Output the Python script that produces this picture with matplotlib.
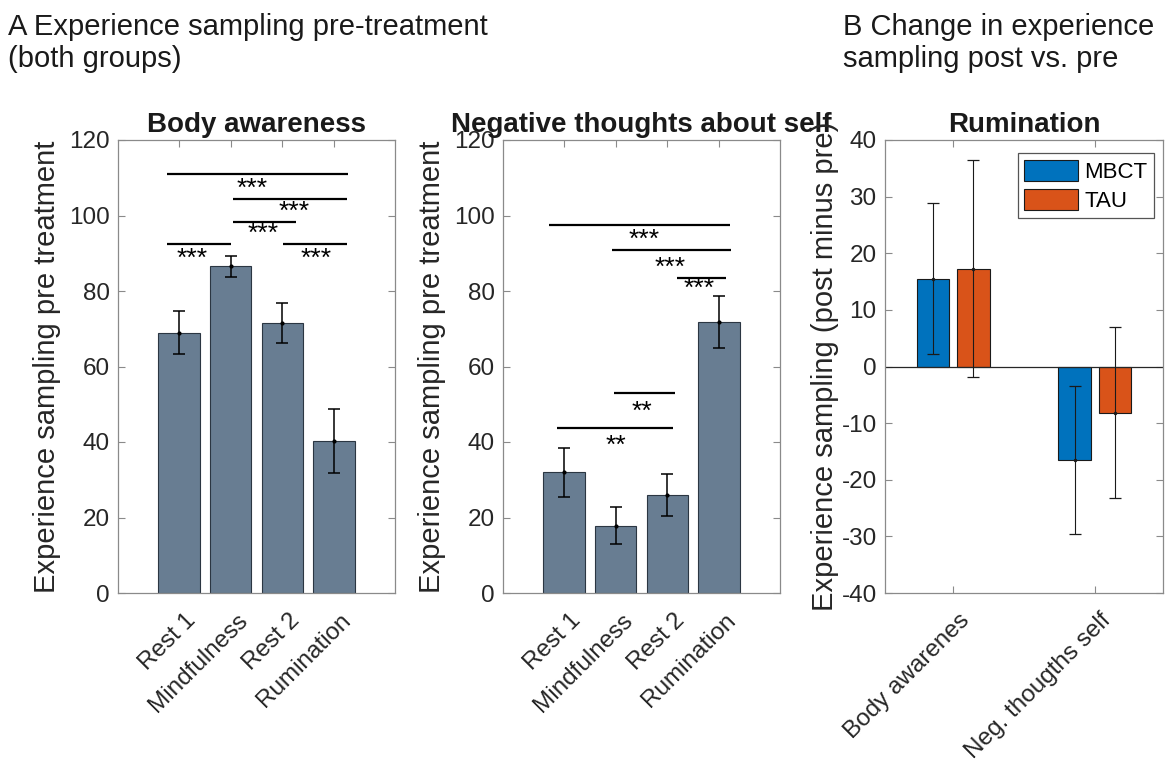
import numpy as np
import matplotlib
matplotlib.use('Agg')
import matplotlib.pyplot as plt
from matplotlib.transforms import ScaledTranslation

plt.rcParams['font.family'] = ['Liberation Sans', 'DejaVu Sans']
plt.rcParams['axes.unicode_minus'] = False

# pre-treatment experience sampling, both groups
conditions = ['Rest 1', 'Mindfulness', 'Rest 2', 'Rumination']
body_mean = [68.9, 86.5, 71.6, 40.3]
body_sem = [5.7, 2.7, 5.3, 8.4]
negself_mean = [32.0, 17.8, 26.0, 71.8]
negself_sem = [6.5, 4.9, 5.5, 7.0]

# significance bars: start, end, height, star position, label
body_sig_x0 = [0.77, 2.05, 2.05, 0.77, 3.02]
body_sig_x1 = [4.28, 4.26, 3.27, 2.01, 4.26]
body_sig_y = [111.1, 104.3, 98.4, 92.4, 92.4]
body_star_x = [2.42, 3.23, 2.63, 1.25, 3.66]
body_star_y = [108.5, 102.3, 96.4, 89.9, 89.9]
body_sig_text = ['***', '***', '***', '***', '***']

neg_sig_x0 = [0.71, 1.92, 3.18, 1.97, 0.86]
neg_sig_x1 = [4.21, 4.24, 4.13, 3.15, 3.10]
neg_sig_y = [97.5, 90.8, 83.5, 53.0, 43.7]
neg_star_x = [2.56, 3.06, 3.62, 2.50, 2.00]
neg_star_y = [94.9, 87.5, 82.0, 49.3, 40.4]
neg_sig_text = ['***', '***', '***', '**', '**']

# rumination change post minus pre
change_groups = ['Body awarenes', 'Neg. thougths self']
mbct_mean = [15.5, -16.5]
mbct_err = [13.3, 13.1]
tau_mean = [17.3, -8.2]
tau_err = [19.2, 15.1]

bar_grey = '#687d92'
mbct_col = '#0072bd'
tau_col = '#d95319'
spine_col = '#8a8a8a'

fig = plt.figure(figsize=(11.68, 7.66), dpi=100)
W, H = 1168, 766


def px_offset(dx, dy):
    return ScaledTranslation(dx / 100, dy / 100, fig.dpi_scale_trans)


def make_ax(left, right, top=140, bottom=593):
    return fig.add_axes([left / W, (H - bottom) / H, (right - left) / W, (bottom - top) / H])


def style_box(ax):
    for s in ax.spines.values():
        s.set_color(spine_col)
        s.set_linewidth(0.9)
    ax.tick_params(direction='in', length=5, width=0.8, color=spine_col,
                   top=True, right=True, labelsize=17.5, labelcolor='#262626', pad=6)


def shift_xlabels(ax, dx, dy):
    for lab in ax.get_xticklabels():
        lab.set_transform(lab.get_transform() + px_offset(dx, dy))


def pre_panel(ax, mean, sem, title, x0, x1, ys, sx, sy, stxt):
    x = np.arange(1, len(conditions) + 1)
    ax.bar(x, mean, width=0.8, color=bar_grey, edgecolor='#2b3642', linewidth=0.8, zorder=2)
    ax.errorbar(x, mean, yerr=sem, fmt='.', color='black', ms=4, elinewidth=1.1,
                capsize=4, capthick=1.1, zorder=3)
    for a, b, y in zip(x0, x1, ys):
        ax.plot([a, b], [y, y], color='black', lw=1.6, solid_capstyle='butt', zorder=4)
    for tx, ty, t in zip(sx, sy, stxt):
        ax.text(tx, ty, t, ha='center', va='center', fontsize=19, zorder=4,
                transform=ax.transData + px_offset(0, -5))
    ax.set_xlim(-0.18, 5.18)
    ax.set_ylim(0, 120)
    ax.set_yticks(np.arange(0, 121, 20))
    ax.set_xticks(x)
    ax.set_xticklabels(conditions, rotation=45, ha='right', va='top', rotation_mode='anchor')
    ax.set_ylabel('Experience sampling pre treatment', fontsize=21, color='#262626', labelpad=6)
    ax.set_title(title, fontsize=20, fontweight='bold', color='#1a1a1a', pad=6)
    style_box(ax)
    shift_xlabels(ax, 6, -8)


ax1 = make_ax(118, 395)
pre_panel(ax1, body_mean, body_sem, 'Body awareness',
          body_sig_x0, body_sig_x1, body_sig_y, body_star_x, body_star_y, body_sig_text)

ax2 = make_ax(503, 780)
pre_panel(ax2, negself_mean, negself_sem, 'Negative thoughts about self',
          neg_sig_x0, neg_sig_x1, neg_sig_y, neg_star_x, neg_star_y, neg_sig_text)

# change scores, grouped bars
ax3 = make_ax(885, 1163)
g = np.arange(1, len(change_groups) + 1)
off = 0.1429
bw = 0.2286
ax3.bar(g - off, mbct_mean, width=bw, color=mbct_col, edgecolor='#1a1a1a', linewidth=0.8,
        label='MBCT', zorder=2)
ax3.bar(g + off, tau_mean, width=bw, color=tau_col, edgecolor='#1a1a1a', linewidth=0.8,
        label='TAU', zorder=2)
ax3.errorbar(g - off, mbct_mean, yerr=mbct_err, fmt='.', color='#1a1a1a', ms=3,
             elinewidth=0.8, capsize=4, capthick=0.9, zorder=3)
ax3.errorbar(g + off, tau_mean, yerr=tau_err, fmt='.', color='#1a1a1a', ms=3,
             elinewidth=0.8, capsize=4, capthick=0.9, zorder=3)
ax3.axhline(0, color='#262626', lw=0.9, zorder=2.5)
ax3.set_xlim(0.52, 2.48)
ax3.set_ylim(-40, 40)
ax3.set_yticks(np.arange(-40, 41, 10))
ax3.set_xticks(g)
ax3.set_xticklabels(change_groups, rotation=45, ha='right', va='top', rotation_mode='anchor')
ax3.set_ylabel('Experience sampling (post minus pre)', fontsize=21, color='#262626', labelpad=2)
ax3.set_title('Rumination', fontsize=20, fontweight='bold', color='#1a1a1a', pad=6)
style_box(ax3)
shift_xlabels(ax3, 5, -8)
leg = ax3.legend(loc='upper right', bbox_to_anchor=(0.968, 0.971), borderaxespad=0,
                 fontsize=16, frameon=True, fancybox=False, framealpha=1,
                 handlelength=2.4, handleheight=1.1, handletextpad=0.3,
                 borderpad=0.3, labelspacing=0.25)
leg.get_frame().set_edgecolor('#555555')
leg.get_frame().set_linewidth(0.9)

fig.text(8 / W, 1 - 13 / H, 'A Experience sampling pre-treatment\n(both groups)',
         ha='left', va='top', fontsize=21, color='#1a1a1a', linespacing=1.2)
fig.text(843 / W, 1 - 13 / H, 'B Change in experience\nsampling post vs. pre',
         ha='left', va='top', fontsize=21, color='#1a1a1a', linespacing=1.2)

fig.savefig('out.png', dpi=100)
